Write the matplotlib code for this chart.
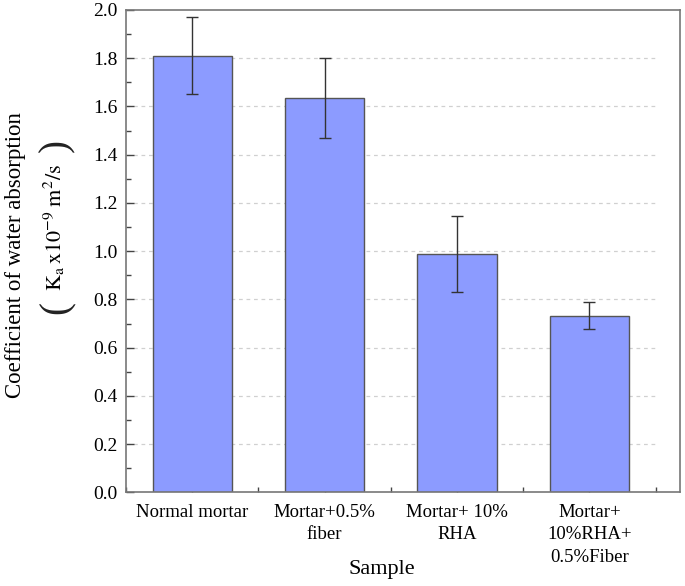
import numpy as np
import matplotlib.pyplot as plt
from matplotlib.ticker import MultipleLocator

# Data
samples = ["Normal mortar", "Mortar+0.5%\nfiber", "Mortar+ 10%\nRHA", "Mortar+\n10%RHA+\n0.5%Fiber"]
ka_values = [1.81, 1.635, 0.99, 0.732]
ka_errors = [0.16, 0.165, 0.157, 0.056]

plt.rcParams['font.family'] = ['Liberation Serif', 'DejaVu Serif']
plt.rcParams['mathtext.fontset'] = 'stix'

fig = plt.figure(figsize=(6.85, 5.86), dpi=100)
ax = fig.add_axes([0.184, 0.1596, 0.809, 0.8234])

x = np.arange(1, len(samples) + 1)

# dashed grid only across the bar region
for yv in np.arange(0.2, 2.0, 0.2):
    ax.hlines(yv, 0.5, 4.5, colors='#d0d0d0', linestyles=(0, (3, 3)), linewidth=0.9, zorder=0)

ax.bar(x, ka_values, width=0.6, color='#8c9bff', edgecolor='#555555', linewidth=1.0, zorder=2)
ax.errorbar(x, ka_values, yerr=ka_errors, fmt='none', ecolor='#333333',
            elinewidth=1.0, capsize=4, capthick=1.0, zorder=3)

ax.set_xlim(0.5, 4.686)
ax.set_ylim(0, 2.0)
ax.set_xticks(x)
ax.set_xticklabels(samples, fontsize=13.5, linespacing=1.45)
ax.xaxis.set_minor_locator(MultipleLocator(0.5))
ax.set_yticks(np.arange(0, 2.01, 0.2))
ax.set_yticklabels([f"{v:.1f}" for v in np.arange(0, 2.01, 0.2)], fontsize=14)
ax.yaxis.set_minor_locator(MultipleLocator(0.1))

ax.tick_params(which='major', direction='in', length=6, width=1.0, color='#444444')
ax.tick_params(which='minor', direction='in', length=3.5, width=1.0, color='#444444')
ax.tick_params(axis='x', which='both', pad=8)
ax.tick_params(axis='y', which='both', pad=6)

for s in ax.spines.values():
    s.set_color('#777777')
    s.set_linewidth(1.2)

# axis titles
fig.text(0.558, 0.029, "Sample", ha='center', va='center', fontsize=16)
fig.text(0.022, 0.565, "Coefficient of water absorption", rotation=90,
         ha='center', va='center', fontsize=16.5)
# unit line with big parentheses
fig.text(0.080, 0.612, r"$\mathrm{K_a\,x10^{-9}\;m^2/s}$", rotation=90,
         ha='center', va='center', fontsize=16)
fig.text(0.083, 0.476, "(", rotation=90, ha='center', va='center', fontsize=28, color='#222222')
fig.text(0.083, 0.752, ")", rotation=90, ha='center', va='center', fontsize=28, color='#222222')

fig.savefig("out.png", dpi=100)
